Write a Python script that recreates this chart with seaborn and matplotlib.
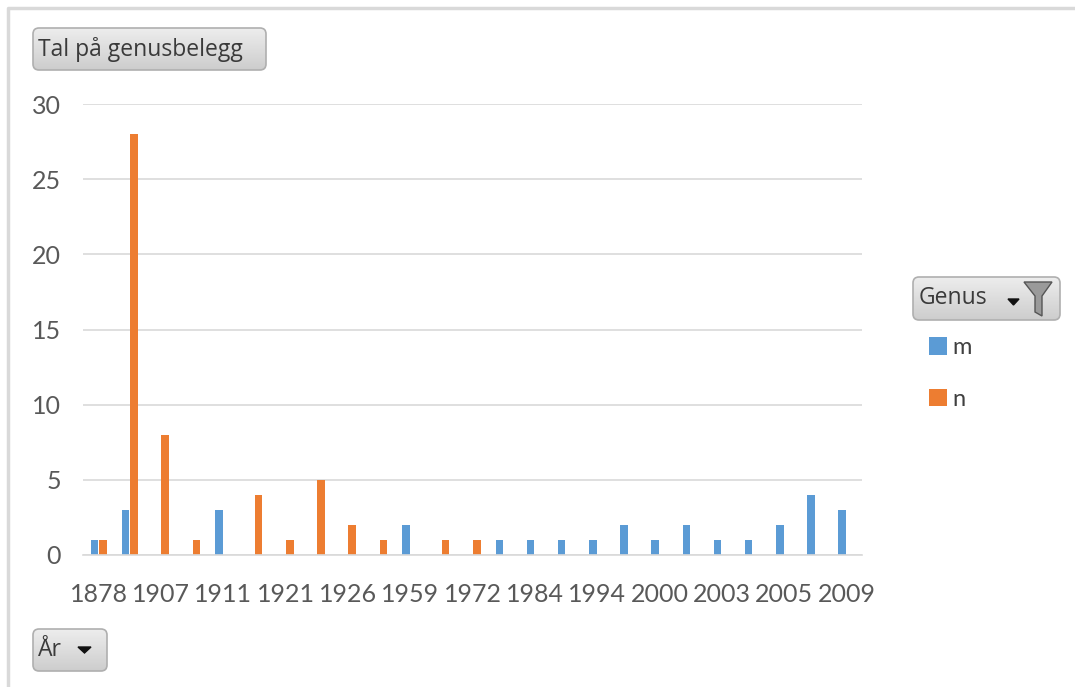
import matplotlib
matplotlib.use("Agg")
import matplotlib.pyplot as plt
import matplotlib.patches as mpatches
import numpy as np
import pandas as pd
import seaborn as sns

# År-kategoriar (berre annakvar er merkt på aksen)
years = ["1878", "1901", "1907", "1910", "1911", "1917", "1921", "1923", "1926",
         "1936", "1959", "1966", "1972", "1978", "1984", "1990", "1994", "1998",
         "2000", "2002", "2003", "2004", "2005", "2007", "2009"]
m_counts = [1, 3, 0, 0, 3, 0, 0, 0, 0, 0, 2, 0, 0, 1, 1, 1, 1, 2, 1, 2, 1, 1, 2, 4, 3]
n_counts = [1, 28, 8, 1, 0, 4, 1, 5, 2, 1, 0, 1, 1, 0, 0, 0, 0, 0, 0, 0, 0, 0, 0, 0, 0]
genus_levels = ["m", "n"]
colors = {"m": "#5B9BD5", "n": "#ED7D31"}

rows = []
for yr, m, n in zip(years, m_counts, n_counts):
    if m:
        rows.append({"År": yr, "Genus": "m", "Tal": m})
    if n:
        rows.append({"År": yr, "Genus": "n", "Tal": n})
df = pd.DataFrame(rows)

sns.set_theme(style="white")
plt.rcParams["font.family"] = ["Lato", "DejaVu Sans"]

W, H = 1075, 687
fig = plt.figure(figsize=(W / 100, H / 100), dpi=100)
ax = fig.add_axes([83 / W, 1 - 555 / H, 779 / W, 451 / H])

sns.barplot(data=df, x="År", y="Tal", hue="Genus", order=years,
            hue_order=genus_levels, palette=colors, width=0.55, gap=0.12,
            dodge=True, ax=ax, saturation=1, linewidth=0, errorbar=None)

ax.set_xlim(-0.5, len(years) - 0.5)
ax.set_ylim(0, 30)
ax.set_yticks(range(0, 31, 5))
ax.yaxis.grid(True, color="#D9D9D9", linewidth=1.2)
ax.set_axisbelow(True)
ax.set_xticks(range(0, len(years), 2))
ax.set_xticklabels(years[::2])
ax.tick_params(axis="both", length=0, labelsize=18, colors="#595959")
ax.tick_params(axis="x", pad=20)
ax.tick_params(axis="y", pad=16)
for s in ["top", "right", "left"]:
    ax.spines[s].set_visible(False)
ax.spines["bottom"].set_color("#D9D9D9")
ax.spines["bottom"].set_linewidth(1.2)
ax.set_xlabel("")
ax.set_ylabel("")

handles, labels = ax.get_legend_handles_labels()
ax.legend_.remove()
fig.legend(handles, labels, loc="upper left", bbox_to_anchor=(908 / W, 1 - 316 / H),
           frameon=False, handlelength=0.75, handleheight=0.75, handletextpad=0.25,
           labelspacing=1.3, fontsize=17, labelcolor="#404040")

# overlegg i pikselkoordinatar for ramme og knappar
ov = fig.add_axes([0, 0, 1, 1], facecolor="none")
ov.set_xlim(0, W)
ov.set_ylim(H, 0)
ov.axis("off")
ov.plot([8, 8, W + 5], [H + 5, 8, 8], color="#D9D9D9", linewidth=2.5)

grad = np.linspace(0, 1, 64).reshape(-1, 1)
btn_cmap = matplotlib.colors.LinearSegmentedColormap.from_list("btn", ["#EDEDED", "#CDCDCD"])


def button(x0, y0, x1, y1, text, tx):
    patch = mpatches.FancyBboxPatch((x0, y0), x1 - x0, y1 - y0,
                                    boxstyle="round,pad=0,rounding_size=6",
                                    facecolor="none", edgecolor="#AFAFAF", linewidth=1.2)
    ov.add_patch(patch)
    im = ov.imshow(grad, extent=(x0, x1, y1, y0), cmap=btn_cmap, aspect="auto")
    im.set_clip_path(patch)
    ov.text(tx, (y0 + y1) / 2, text, ha="left", va="center", fontsize=16.5,
            color="#3A3A3A", family=["Open Sans", "DejaVu Sans"])


button(33, 28, 266, 70, "Tal på genusbelegg", 38)
button(913, 277, 1060, 320, "Genus", 919)
button(33, 629, 107, 671, "År", 38)

# nedtrekkspiler
ov.add_patch(mpatches.Polygon([[1008, 299], [1019, 299], [1013.5, 305]], color="#111111"))
ov.add_patch(mpatches.Polygon([[78, 647], [91, 647], [84.5, 653]], color="#111111"))
# trakt-ikon
ov.add_patch(mpatches.Polygon([[1024, 282], [1052, 282], [1042, 296], [1042, 316],
                               [1035, 312], [1035, 296]],
                              facecolor="#9A9A9A", edgecolor="#555555", linewidth=1))
ov.set_xlim(0, W)
ov.set_ylim(H, 0)

fig.savefig("out.png", dpi=100)
